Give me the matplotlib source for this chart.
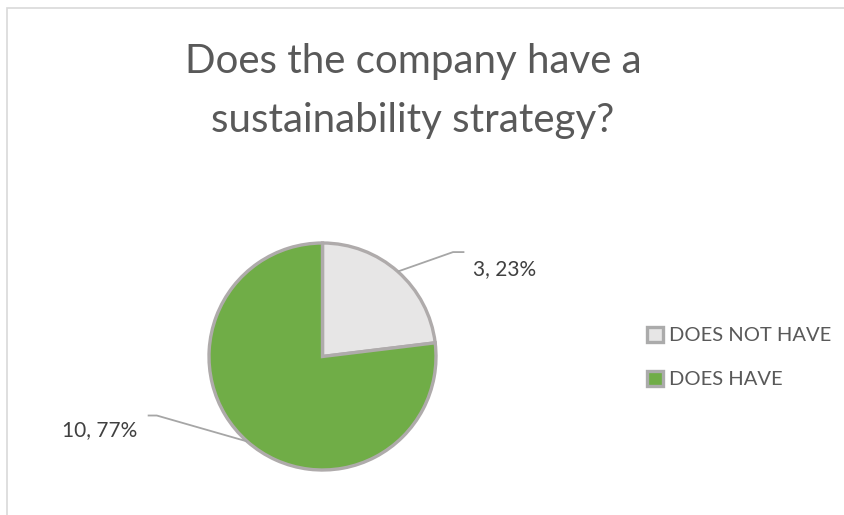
import numpy as np
import matplotlib
matplotlib.use("Agg")
import matplotlib.pyplot as plt
from matplotlib.patches import Rectangle, Patch

plt.rcParams['font.family'] = ['Lato', 'DejaVu Sans']

title_lines = ["Does the company have a", "sustainability strategy?"]
categories = ["DOES NOT HAVE", "DOES HAVE"]
counts = [3, 10]
percents = [23, 77]
colors = ["#E7E6E6", "#70AD47"]
edge = "#AFABAB"

W, H = 845, 515
fig = plt.figure(figsize=(W / 100, H / 100), dpi=100)

# chart border (runs off the right / bottom edge)
fig.patches.append(Rectangle((7 / W, -0.1), 1.2, (H - 8) / H + 0.1,
                             transform=fig.transFigure, fill=False,
                             edgecolor="#D9D9D9", linewidth=1.2))

cx, cy, r = 322.5, 356.5, 113.5
ax = fig.add_axes([(cx - r) / W, (H - cy - r) / H, 2 * r / W, 2 * r / H])
wedges, _ = ax.pie(counts, colors=colors, startangle=90, counterclock=False,
                   radius=1, wedgeprops=dict(edgecolor=edge, linewidth=2.4))
ax.set_xlim(-1, 1)
ax.set_ylim(-1, 1)
ax.set_aspect('equal')
ax.axis('off')

# title, one line per text so the baselines sit where they should
for line, base in zip(title_lines, [73, 132]):
    fig.text(413 / W, 1 - base / H, line, ha='center', va='baseline',
             fontsize=29, color="#595959")

# leader lines and data labels
elbows = [(1.15, 0.92), (-1.46, -0.52)]
ends = [(1.25, 0.92), (-1.54, -0.52)]
text_pos = [(1.33, 0.77), (-1.63, -0.65)]
aligns = ['left', 'right']
for w, c, p, el, en, tp, ha in zip(wedges, counts, percents, elbows, ends,
                                   text_pos, aligns):
    ang = np.deg2rad((w.theta1 + w.theta2) / 2)
    x0, y0 = np.cos(ang), np.sin(ang)
    ax.plot([x0, el[0], en[0]], [y0, el[1], en[1]], color="#A6A6A6",
            linewidth=1.3, clip_on=False, solid_capstyle='butt')
    ax.text(tp[0], tp[1], f"{c}, {p}%", ha=ha, va='center', fontsize=15,
            color="#404040", clip_on=False)

handles = [Patch(facecolor=col, edgecolor="#ABABAB", linewidth=2.4)
           for col in colors]
fig.legend(handles, categories, loc='center left',
           bbox_to_anchor=(647 / W, 1 - 357.5 / H), frameon=False, fontsize=14.5,
           labelcolor="#595959", handlelength=0.78, handleheight=0.78,
           handletextpad=0.3, labelspacing=1.3, borderpad=0, borderaxespad=0)

fig.savefig("out.png", dpi=100, facecolor='white')
